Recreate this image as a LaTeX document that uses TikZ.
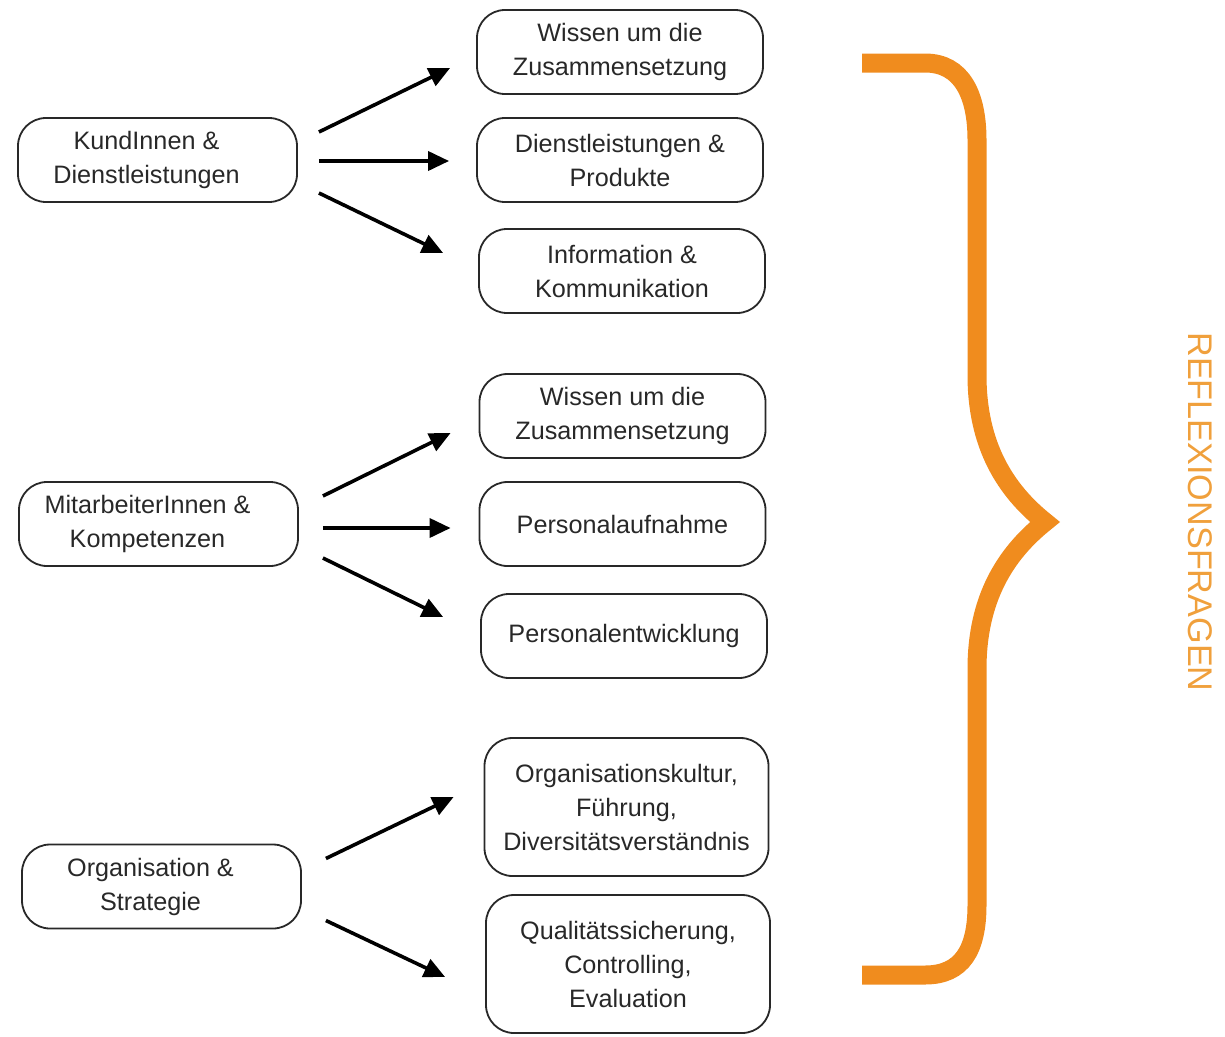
\documentclass[tikz,border=0pt]{standalone}
\usepackage{fontspec}
\setmainfont{Liberation Sans}
\usetikzlibrary{arrows.meta}
\definecolor{brorange}{RGB}{240,140,30}
\definecolor{txtorange}{RGB}{240,160,60}
\definecolor{boxgray}{RGB}{40,40,40}
\newcommand{\ls}{\hspace*{-22pt}}
\begin{document}
\begin{tikzpicture}[x=1pt,y=-1pt,
  box/.style={draw=boxgray,line width=1.8pt,rounded corners=28pt,align=center,
    text=boxgray,font=\fontsize{25.2}{34}\selectfont,inner sep=0pt},
  lbox/.style={box,minimum width=279pt,minimum height=84pt},
  rbox/.style={box,minimum width=286pt,minimum height=84pt},
  tbox/.style={box,minimum width=284pt,minimum height=138pt},
  arr/.style={line width=3.6pt,-{Triangle[length=21pt,width=19pt]}},
  bracestyle/.style={draw=brorange,line width=19pt,line join=miter}]
\useasboundingbox (0,0) rectangle (1225,1036);
% left boxes
\node[lbox] (k) at (157.5,160) {\ls KundInnen \&\\\ls Dienstleistungen};
\node[lbox] (m) at (158.5,524) {\ls MitarbeiterInnen \&\\\ls Kompetenzen};
\node[lbox] (o) at (161.5,886.5) {\ls Organisation \&\\\ls Strategie};
% right boxes
\node[rbox] (r1) at (620,52) {Wissen um die\\Zusammensetzung};
\node[rbox] (r2) at (620,160) {Dienstleistungen \&\\Produkte};
\node[rbox] (r3) at (622,271) {Information \&\\Kommunikation};
\node[rbox] (r4) at (622.5,416) {Wissen um die\\Zusammensetzung};
\node[rbox] (r5) at (622.5,524) {Personalaufnahme};
\node[rbox] (r6) at (624,636) {Personalentwicklung};
\node[tbox] (r7) at (626.5,807) {Organisationskultur,\\Führung,\\Diversitätsverständnis};
\node[tbox] (r8) at (628,964) {Qualitätssicherung,\\Controlling,\\Evaluation};
% arrows group 1
\draw[arr] ([xshift=21pt,yshift=28pt]k.east) -- ([xshift=-26pt,yshift=-16pt]r1.west);
\draw[arr] ([xshift=21pt,yshift=-1pt]k.east) -- ([xshift=-27pt,yshift=-1pt]r2.west);
\draw[arr] ([xshift=21pt,yshift=-33pt]k.east) -- ([xshift=-35pt,yshift=18pt]r3.west);
% arrows group 2
\draw[arr] ([xshift=24pt,yshift=28pt]m.east) -- ([xshift=-28pt,yshift=-17pt]r4.west);
\draw[arr] ([xshift=24pt,yshift=-4pt]m.east) -- ([xshift=-28pt,yshift=-4pt]r5.west);
\draw[arr] ([xshift=24pt,yshift=-34pt]m.east) -- ([xshift=-37pt,yshift=19pt]r6.west);
% arrows group 3
\draw[arr] ([xshift=24pt,yshift=28pt]o.east) -- ([xshift=-30pt,yshift=10pt]r7.west);
\draw[arr] ([xshift=24pt,yshift=-34pt]o.east) -- ([xshift=-40pt,yshift=-13pt]r8.west);
% brace
\coordinate (btop) at (862,63);
\coordinate (btip) at (1045,522);
\coordinate (bbot) at (862,975);
\draw[bracestyle] (btop) -- (925,63) .. controls (962,63) and (977,95) .. (977,140)
  -- (977,375) .. controls (977,445) and (1005,490) .. (btip)
  .. controls (1005,554) and (977,599) .. (977,669)
  -- (977,905) .. controls (977,950) and (962,975) .. (925,975) -- (bbot);
\node[rotate=-90,text=txtorange,font=\fontsize{34.2}{36}\selectfont,inner sep=0pt] (rf) at (1200,512) {REFLEXIONSFRAGEN};
\end{tikzpicture}
\end{document}
